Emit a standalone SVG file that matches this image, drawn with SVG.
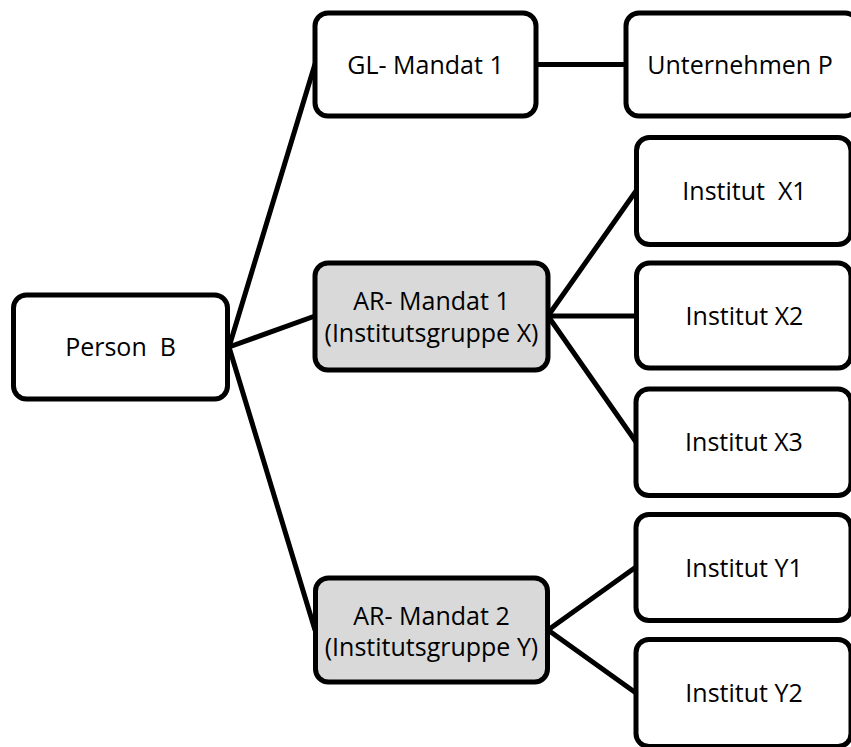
<svg xmlns="http://www.w3.org/2000/svg" width="851" height="747" viewBox="0 0 851 747">
  <style>
    .box { fill: #ffffff; stroke: #000000; stroke-width: 5; }
    .grey { fill: #d9d9d9; }
    .lbl { font-family: "Open Sans", "Liberation Sans", sans-serif; font-size: 25px; fill: #000000; text-anchor: middle; white-space: pre; }
    .conn { stroke: #000000; stroke-width: 5; fill: none; stroke-linecap: round; }
  </style>
  <rect width="851" height="747" fill="#ffffff"/>
  <g id="connectors">
    <line class="conn" x1="229" y1="347" x2="315" y2="64"/>
    <line class="conn" x1="229" y1="347" x2="315" y2="316"/>
    <line class="conn" x1="229" y1="347" x2="315" y2="630"/>
    <line class="conn" x1="536" y1="64.5" x2="626" y2="64.5"/>
    <line class="conn" x1="548" y1="316" x2="636" y2="191"/>
    <line class="conn" x1="548" y1="316" x2="636" y2="316"/>
    <line class="conn" x1="548" y1="316" x2="636" y2="442"/>
    <line class="conn" x1="548" y1="630" x2="636" y2="567"/>
    <line class="conn" x1="548" y1="630" x2="636" y2="693"/>
  </g>
  <g id="person-b">
    <rect class="box" x="13.5" y="295" width="214" height="104" rx="13"/>
    <text class="lbl" x="120.5" y="356">Person  B</text>
  </g>
  <g id="gl-mandat-1">
    <rect class="box" x="315" y="13" width="221" height="103" rx="13"/>
    <text class="lbl" x="425.5" y="74">GL- Mandat 1</text>
  </g>
  <g id="unternehmen-p">
    <rect class="box" x="626" y="13" width="232" height="103" rx="13"/>
    <text class="lbl" x="740" y="74">Unternehmen P</text>
  </g>
  <g id="ar-mandat-1">
    <rect class="box grey" x="315" y="263" width="233" height="107" rx="13"/>
    <text class="lbl" x="431.5" y="310">AR- Mandat 1</text>
    <text class="lbl" x="431.5" y="342">(Institutsgruppe X)</text>
  </g>
  <g id="ar-mandat-2">
    <rect class="box grey" x="315.5" y="578" width="232" height="104" rx="13"/>
    <text class="lbl" x="431.5" y="625">AR- Mandat 2</text>
    <text class="lbl" x="431.5" y="656">(Institutsgruppe Y)</text>
  </g>
  <g id="institut-x1">
    <rect class="box" x="636.5" y="137.5" width="214.5" height="107" rx="13"/>
    <text class="lbl" x="744.5" y="200">Institut  X1</text>
  </g>
  <g id="institut-x2">
    <rect class="box" x="636.5" y="263" width="214.5" height="105" rx="13"/>
    <text class="lbl" x="744.5" y="325">Institut X2</text>
  </g>
  <g id="institut-x3">
    <rect class="box" x="636" y="389" width="215" height="106.5" rx="13"/>
    <text class="lbl" x="744" y="451">Institut X3</text>
  </g>
  <g id="institut-y1">
    <rect class="box" x="636" y="514.5" width="215" height="106" rx="13"/>
    <text class="lbl" x="744" y="577">Institut Y1</text>
  </g>
  <g id="institut-y2">
    <rect class="box" x="636" y="639.5" width="215" height="107" rx="13"/>
    <text class="lbl" x="744" y="702">Institut Y2</text>
  </g>
</svg>
